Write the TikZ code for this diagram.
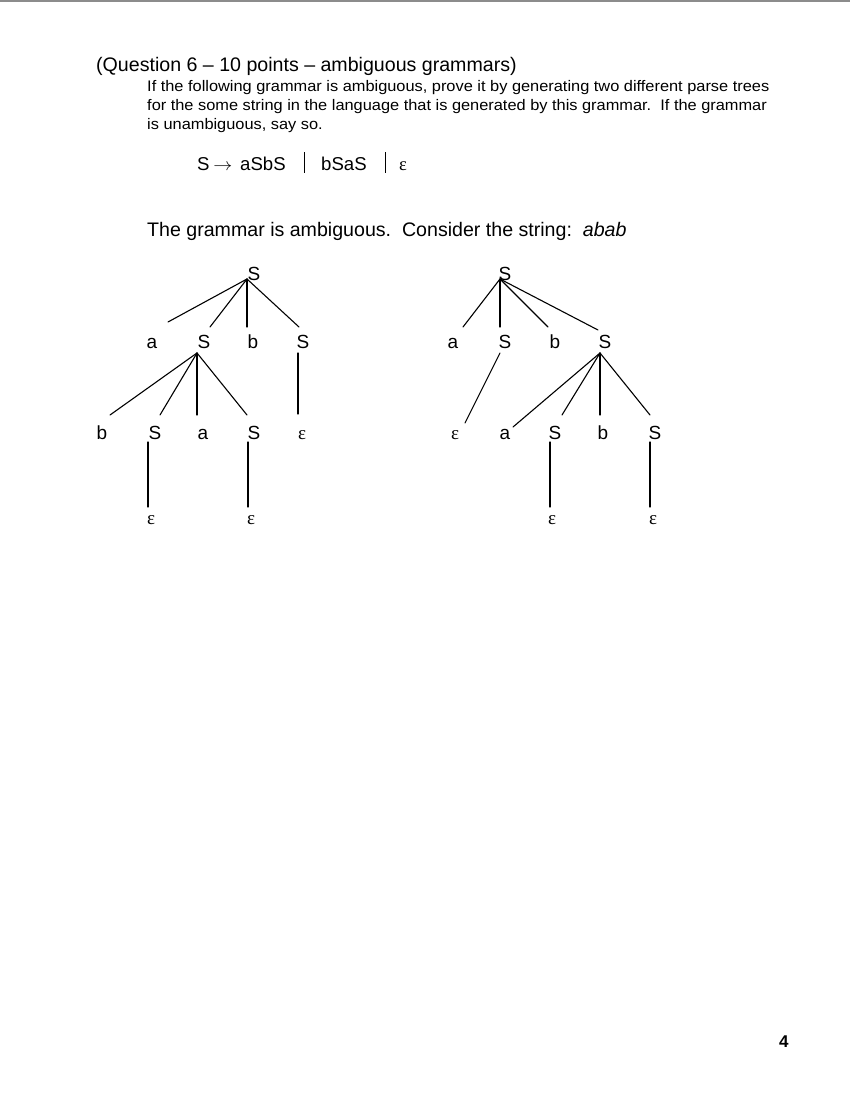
\documentclass[tikz,border=0pt]{standalone}
\usepackage{fontspec}
\setmainfont{Liberation Sans}
\newfontfamily\bodyf[FakeStretch=1.07]{Liberation Sans}
\newfontfamily\epsf{Liberation Serif}
\begin{document}
\begin{tikzpicture}[x=1pt,y=-1pt,
  txt/.style={anchor=base west, inner sep=0pt},
  gram/.style={anchor=base west, inner sep=0pt, font=\fontsize{18.6}{20}\selectfont},
  lab/.style={anchor=base, inner sep=0pt, font=\fontsize{19}{19}\selectfont},
  eps/.style={lab, font=\epsf\fontsize{19}{19}\selectfont},
  edge/.style={line width=1.1pt, line cap=round},
  bar/.style={line width=0.8pt}]
\useasboundingbox (0,0) rectangle (850,1100);
\fill[white] (0,0) rectangle (850,1100);
\draw[black!45, line width=1.5pt] (0,1) -- (850,1);
% text
\node[txt] (title) at (96,71) {\fontsize{19.6}{22}\selectfont (Question 6 – 10 points – ambiguous grammars)};
\node[txt] (l1) at (147,91) {\bodyf\fontsize{15.3}{17}\selectfont If the following grammar is ambiguous, prove it by generating two different parse trees};
\node[txt] (l2) at (147,110) {\bodyf\fontsize{15.3}{17}\selectfont for the some string in the language that is generated by this grammar.\ \ If the grammar};
\node[txt] (l3) at (147,129) {\bodyf\fontsize{15.3}{17}\selectfont is unambiguous, say so.};
\node[gram] (g0) at (197,170) {S};
\node[anchor=base, inner sep=0pt, font=\fontsize{18.6}{20}\selectfont] (ga) at (223,170) {\scalebox{1.1}[1]{$\rightarrow$}};
\node[gram] (g1) at (240,170) {aSbS};
\node[gram] (g2) at (321,170) {bSaS};
\node[gram, font=\epsf\fontsize{18.6}{20}\selectfont] (g3) at (399,170) {ε};
\draw[bar] (304,152) -- (304,173);
\draw[bar] (385,152) -- (385,173);
\node[txt] (l4) at (147,236) {\fontsize{19.6}{22}\selectfont The grammar is ambiguous.\ \ Consider the string:\ \ \textit{abab}};
\node[txt] (pg) at (779,1047) {\fontsize{17}{20}\selectfont\bfseries 4};
% tree 1
\node[lab] (r1) at (254,280) {S};
\node[lab] (a1) at (152,348) {a};
\node[lab] (S1) at (204,348) {S};
\node[lab] (b1) at (253,348) {b};
\node[lab] (S2) at (303,348) {S};
\node[lab] (b2) at (102,439) {b};
\node[lab] (S3) at (155,439) {S};
\node[lab] (a2) at (203,439) {a};
\node[lab] (S4) at (254,439) {S};
\node[eps] (e1) at (302,439) {ε};
\node[eps] (e2) at (151,524) {ε};
\node[eps] (e3) at (251,524) {ε};
\draw[edge] ([shift={(-7,-1)}]r1.base) -- ([shift={(16,-26)}]a1.base);
\draw[edge] ([shift={(-7,-1)}]r1.base) -- ([shift={(6,-21)}]S1.base);
\draw[edge] ([shift={(-7,-1)}]r1.base) -- ([shift={(-6,-21)}]b1.base);
\draw[edge] ([shift={(-7,-1)}]r1.base) -- ([shift={(-4,-21)}]S2.base);
\draw[edge] ([shift={(-7,5)}]S1.base) -- ([shift={(8,-24)}]b2.base);
\draw[edge] ([shift={(-7,5)}]S1.base) -- ([shift={(5,-24)}]S3.base);
\draw[edge] ([shift={(-7,5)}]S1.base) -- ([shift={(-6,-24)}]a2.base);
\draw[edge] ([shift={(-7,5)}]S1.base) -- ([shift={(-7,-24)}]S4.base);
\draw[edge] ([shift={(-5,5)}]S2.base) -- ([shift={(-4,-25)}]e1.base);
\draw[edge] ([shift={(-7,3)}]S3.base) -- ([shift={(-3,-17)}]e2.base);
\draw[edge] ([shift={(-6,3)}]S4.base) -- ([shift={(-3,-17)}]e3.base);
% tree 2
\node[lab] (r2) at (505,280) {S};
\node[lab] (a3) at (453,348) {a};
\node[lab] (S5) at (505,348) {S};
\node[lab] (b3) at (555,348) {b};
\node[lab] (S6) at (605,348) {S};
\node[eps] (e4) at (455,439) {ε};
\node[lab] (a4) at (505,439) {a};
\node[lab] (S7) at (555,439) {S};
\node[lab] (b4) at (603,439) {b};
\node[lab] (S8) at (655,439) {S};
\node[eps] (e5) at (552,524) {ε};
\node[eps] (e6) at (653,524) {ε};
\draw[edge] ([shift={(-5,-1)}]r2.base) -- ([shift={(10,-21)}]a3.base);
\draw[edge] ([shift={(-5,-1)}]r2.base) -- ([shift={(-5,-21)}]S5.base);
\draw[edge] ([shift={(-5,-1)}]r2.base) -- ([shift={(-7,-21)}]b3.base);
\draw[edge] ([shift={(-5,-1)}]r2.base) -- ([shift={(-7,-18)}]S6.base);
\draw[edge] ([shift={(-5,5)}]S5.base) -- ([shift={(10,-16)}]e4.base);
\draw[edge] ([shift={(-5,5)}]S6.base) -- ([shift={(8,-12)}]a4.base);
\draw[edge] ([shift={(-5,5)}]S6.base) -- ([shift={(7,-24)}]S7.base);
\draw[edge] ([shift={(-5,5)}]S6.base) -- ([shift={(-3,-24)}]b4.base);
\draw[edge] ([shift={(-5,5)}]S6.base) -- ([shift={(-5,-24)}]S8.base);
\draw[edge] ([shift={(-5,3)}]S7.base) -- ([shift={(-2,-17)}]e5.base);
\draw[edge] ([shift={(-5,3)}]S8.base) -- ([shift={(-3,-17)}]e6.base);
\end{tikzpicture}
\end{document}
